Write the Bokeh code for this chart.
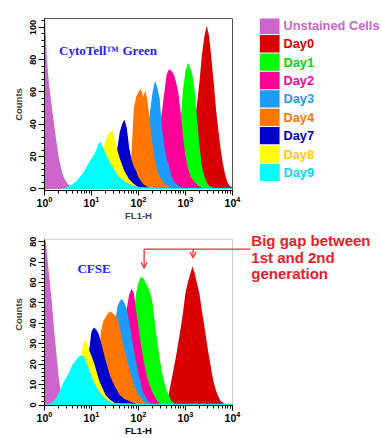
import numpy as np
from bokeh.plotting import figure
from bokeh.layouts import column, row
from bokeh.models import (Range1d, Label, Arrow, OpenHead, SingleIntervalTicker, BoxAnnotation,
                          LogAxis, FixedTicker)
from bokeh.embed import file_html
from bokeh.resources import INLINE
from bokeh.core.properties import value

# ---------------- data ----------------
series_names = ["Unstained Cells", "Day0", "Day1", "Day2", "Day3", "Day4", "Day7", "Day8", "Day9"]
fill_colors = ["#cc66cc", "#d80000", "#00ff00", "#ff0099", "#1e9bff", "#ff7700", "#0000cc", "#ffff00", "#00ffff"]
text_colors = ["#cc66cc", "#dd0000", "#00dd00", "#ff0099", "#1e9bff", "#ff7700", "#0000cc", "#ffcc00", "#00ddff"]

# Top panel: CytoTell Green  (log10 FL1-H positions, counts)
cyto_unst_log = [0.0, 0.03, 0.05, 0.1, 0.15, 0.2, 0.25, 0.3, 0.35, 0.4, 0.45, 0.5, 0.55, 0.6]
cyto_unst_cnt = [110, 95, 80, 64, 52, 41, 30, 20, 13, 8, 5, 3, 1.5, 0]
cyto_d0_log = [2.7, 2.8, 2.9, 3.0, 3.1, 3.15, 3.2, 3.25, 3.3, 3.35, 3.4, 3.45, 3.5, 3.55, 3.6, 3.65, 3.7, 3.75, 3.8, 3.85, 3.9, 3.95, 4.0]
cyto_d0_cnt = [0, 1, 3, 8, 20, 30, 42, 54, 67, 83, 94, 101, 95, 81, 66, 49, 36, 24, 15, 8, 3.5, 1.5, 1]
cyto_d1_log = [2.6, 2.7, 2.8, 2.85, 2.9, 2.95, 3.0, 3.05, 3.1, 3.15, 3.2, 3.25, 3.3, 3.35, 3.4, 3.45, 3.5, 3.6, 3.7]
cyto_d1_cnt = [1, 5, 18, 30, 45, 62, 73, 78, 75, 70, 60, 42, 26, 14, 8, 4, 2, 0.5, 0]
cyto_d2_log = [2.1, 2.2, 2.3, 2.4, 2.45, 2.5, 2.55, 2.6, 2.65, 2.7, 2.75, 2.8, 2.85, 2.9, 2.95, 3.0, 3.05, 3.1, 3.2, 3.3, 3.4]
cyto_d2_cnt = [1, 5, 14, 28, 38, 48, 60, 71, 74, 73, 71, 66, 59, 47, 32, 20, 13, 8, 4, 1.5, 0]
cyto_d3_log = [1.9, 2.0, 2.1, 2.15, 2.2, 2.25, 2.3, 2.35, 2.4, 2.45, 2.5, 2.55, 2.6, 2.65, 2.7, 2.75, 2.8, 2.9, 3.0]
cyto_d3_cnt = [2, 6, 16, 25, 37, 49, 60, 67, 63, 56, 38, 26, 19, 14, 8, 5, 3, 1, 0]
cyto_d4_log = [1.6, 1.7, 1.8, 1.85, 1.9, 1.95, 2.0, 2.05, 2.1, 2.15, 2.2, 2.25, 2.3, 2.35, 2.4, 2.5, 2.6, 2.7]
cyto_d4_cnt = [1, 4, 10, 22, 50, 57, 60, 62, 57, 61, 52, 40, 27, 17, 11, 5, 2, 0]
cyto_d7_log = [1.3, 1.4, 1.5, 1.55, 1.6, 1.65, 1.7, 1.75, 1.8, 1.85, 1.9, 1.95, 2.0, 2.1, 2.2, 2.3]
cyto_d7_cnt = [1, 5, 15, 25, 35, 40, 43, 38, 26, 18, 14, 11, 7, 3, 1, 0]
cyto_d8_log = [0.9, 1.0, 1.1, 1.2, 1.25, 1.3, 1.35, 1.4, 1.45, 1.5, 1.55, 1.6, 1.7, 1.8, 1.9, 2.0, 2.1]
cyto_d8_cnt = [1, 3, 8, 17, 24, 30, 34, 35, 36, 30, 24, 19, 11, 6, 3, 1, 0]
cyto_d9_log = [0.4, 0.5, 0.6, 0.7, 0.8, 0.9, 1.0, 1.05, 1.1, 1.15, 1.2, 1.25, 1.3, 1.4, 1.5, 1.6, 1.7, 1.8, 1.9, 2.0, 2.5, 3.0, 3.5, 4.0]
cyto_d9_cnt = [0, 1.5, 3, 5.5, 9, 14, 19, 21, 24, 28, 29, 25, 22, 16, 11, 7, 4.5, 3, 2, 1.2, 0.6, 0.5, 0.5, 0.5]

# Bottom panel: CFSE
cfse_unst_log = [0.0, 0.03, 0.05, 0.1, 0.15, 0.2, 0.25, 0.3, 0.35, 0.4, 0.45, 0.5]
cfse_unst_cnt = [82, 80, 75, 63, 52, 38, 26, 14, 6, 2, 0.5, 0]
cfse_d0_log = [2.5, 2.6, 2.65, 2.7, 2.75, 2.8, 2.85, 2.9, 2.95, 3.0, 3.05, 3.1, 3.15, 3.2, 3.25, 3.3, 3.35, 3.4, 3.45, 3.5, 3.55, 3.6, 3.65, 3.7, 3.75, 3.8, 3.9]
cfse_d0_cnt = [0, 1, 6, 12, 18, 24, 31, 38, 46, 55, 60, 64, 68, 64, 59, 54, 46, 39, 31, 24, 17, 11, 7, 4, 2, 1, 0]
cfse_d1_log = [1.6, 1.7, 1.8, 1.85, 1.9, 1.95, 2.0, 2.05, 2.1, 2.15, 2.2, 2.25, 2.3, 2.35, 2.4, 2.45, 2.5, 2.55, 2.6, 2.7, 2.8]
cfse_d1_cnt = [1, 5, 20, 32, 45, 55, 60, 63, 62, 60, 58, 55, 50, 40, 31, 23, 16, 11, 7, 2, 0]
cfse_d2_log = [1.4, 1.5, 1.6, 1.65, 1.7, 1.75, 1.8, 1.85, 1.9, 1.95, 2.0, 2.05, 2.1, 2.15, 2.2, 2.3, 2.4, 2.5]
cfse_d2_cnt = [1, 4, 14, 24, 36, 47, 54, 57, 55, 46, 38, 30, 23, 17, 12, 6, 2, 0]
cfse_d3_log = [1.2, 1.3, 1.35, 1.4, 1.45, 1.5, 1.55, 1.6, 1.65, 1.7, 1.75, 1.8, 1.85, 1.9, 1.95, 2.0, 2.1, 2.2, 2.3]
cfse_d3_cnt = [1, 4, 9, 16, 28, 40, 48, 51, 52, 50, 47, 41, 34, 27, 21, 15, 6, 2, 0]
cfse_d4_log = [0.9, 1.0, 1.1, 1.15, 1.2, 1.25, 1.3, 1.35, 1.4, 1.45, 1.5, 1.55, 1.6, 1.65, 1.7, 1.8, 1.9, 2.0, 2.1, 2.2]
cfse_d4_cnt = [1, 3, 10, 20, 36, 41, 43, 45, 46, 45, 44, 43, 38, 32, 27, 18, 10, 5, 2, 0]
cfse_d7_log = [0.7, 0.8, 0.85, 0.9, 0.95, 1.0, 1.05, 1.1, 1.15, 1.2, 1.3, 1.4, 1.5, 1.6, 1.7, 1.8, 1.9, 2.0]
cfse_d7_cnt = [1, 5, 10, 16, 27, 36, 38, 37, 35, 31, 22, 14, 9, 5, 3, 2, 1, 0]
cfse_d8_log = [0.5, 0.6, 0.65, 0.7, 0.75, 0.8, 0.85, 0.9, 0.95, 1.0, 1.05, 1.1, 1.15, 1.2, 1.3, 1.4, 1.5, 1.6]
cfse_d8_cnt = [1, 4, 8, 13, 20, 27, 32, 30, 27, 24, 21, 17, 13, 10, 5, 2.5, 1, 0]
cfse_d9_log = [0.0, 0.1, 0.2, 0.25, 0.3, 0.35, 0.4, 0.45, 0.5, 0.55, 0.6, 0.65, 0.7, 0.75, 0.8, 0.85, 0.9, 0.95, 1.0, 1.1, 1.2, 1.3, 1.4, 1.5, 2.0, 3.0, 4.0]
cfse_d9_cnt = [0, 0.5, 2, 3.5, 6, 8, 11, 13, 15, 17.5, 20, 21.5, 23, 24, 24.5, 23, 20.5, 17, 14, 9, 5.5, 3, 1.5, 1, 0.6, 0.6, 0.6]

annotation_lines = ["Big gap between", "1st and 2nd", "generation"]

cyto_series = [(cyto_unst_log, cyto_unst_cnt), (cyto_d0_log, cyto_d0_cnt), (cyto_d1_log, cyto_d1_cnt),
               (cyto_d2_log, cyto_d2_cnt), (cyto_d3_log, cyto_d3_cnt), (cyto_d4_log, cyto_d4_cnt),
               (cyto_d7_log, cyto_d7_cnt), (cyto_d8_log, cyto_d8_cnt), (cyto_d9_log, cyto_d9_cnt)]
cfse_series = [(cfse_unst_log, cfse_unst_cnt), (cfse_d0_log, cfse_d0_cnt), (cfse_d1_log, cfse_d1_cnt),
               (cfse_d2_log, cfse_d2_cnt), (cfse_d3_log, cfse_d3_cnt), (cfse_d4_log, cfse_d4_cnt),
               (cfse_d7_log, cfse_d7_cnt), (cfse_d8_log, cfse_d8_cnt), (cfse_d9_log, cfse_d9_cnt)]

FONT = "Liberation Sans"
RED = "#e8202a"
ARROW_RED = "#ee3333"
FRAME_GRAY = "#555555"


def style_axes(p, tick_step, x_label):
    p.yaxis.ticker = SingleIntervalTicker(interval=tick_step, num_minor_ticks=5)
    p.yaxis.major_label_orientation = "vertical"
    p.yaxis.major_label_text_font = FONT
    p.yaxis.major_label_text_font_style = "bold"
    p.yaxis.major_label_text_font_size = "9px"
    p.yaxis.major_label_standoff = 2
    p.yaxis.axis_label = "Counts"
    p.yaxis.axis_label_text_font = FONT
    p.yaxis.axis_label_text_font_style = "bold"
    p.yaxis.axis_label_text_font_size = "9.5px"
    p.yaxis.axis_label_standoff = 4
    p.yaxis.major_tick_out = 6
    p.yaxis.major_tick_in = 0
    p.yaxis.minor_tick_out = 3
    p.yaxis.minor_tick_in = 0

    p.xaxis.major_label_text_font = FONT
    p.xaxis.major_label_text_font_style = "bold"
    p.xaxis.major_label_text_font_size = "10.5px"
    p.xaxis.major_label_standoff = 0
    p.xaxis.major_tick_out = 5
    p.xaxis.major_tick_in = 0
    p.xaxis.minor_tick_out = 3
    p.xaxis.minor_tick_in = 0
    if x_label:
        p.xaxis.axis_label = "FL1-H"
        p.xaxis.axis_label_text_font = FONT
        p.xaxis.axis_label_text_font_style = "bold"
        p.xaxis.axis_label_text_font_size = "9.5px"
        p.xaxis.axis_label_standoff = 0
    for ax in (p.xaxis, p.yaxis):
        ax.axis_line_color = "black"
        ax.major_tick_line_color = "black"
        ax.minor_tick_line_color = "black"
        ax.major_label_text_color = "black"
    p.grid.visible = False
    p.background_fill_color = "white"
    p.border_fill_color = "white"


def draw_hist(p, series, y_cap):
    for (lg, cnt), col in zip(series, fill_colors):
        xs = 10 ** np.array(lg, dtype=float)
        ys = np.minimum(np.array(cnt, dtype=float), y_cap)
        p.varea(x=xs, y1=np.zeros(len(xs)), y2=ys, fill_color=col, fill_alpha=1.0)


TOP_H = 223
BOT_H = 438 - TOP_H
PX_PER_DECADE = 47.0

# ---------------- top panel ----------------
p1 = figure(width=242, height=TOP_H, x_axis_type="log",
            x_range=Range1d(1, 1e4), y_range=Range1d(-1, 105.5),
            toolbar_location=None, output_backend="svg",
            min_border_left=44, min_border_right=10, min_border_top=18, min_border_bottom=30)
p1.title.visible = False
draw_hist(p1, cyto_series, 200)
style_axes(p1, 20, True)
p1.outline_line_color = FRAME_GRAY
p1.outline_line_width = 1
p1.add_layout(Label(x=10 ** 0.31, y=85.8, text="CytoTell™ Green", text_align="left",
                    text_baseline="middle", text_font="Liberation Serif",
                    text_font_style="bold", text_font_size="13px", text_color="#1f1fff"))

# ---------------- legend (canvas-like coordinates, frame aligned with p1) ----------------
leg_w = 381 - 242
leg = figure(width=leg_w, height=TOP_H, x_range=Range1d(0, leg_w), y_range=Range1d(TOP_H - 30, 18),
             toolbar_location=None, output_backend="svg",
             x_axis_location=None, y_axis_location=None,
             min_border_left=0, min_border_right=0, min_border_top=18, min_border_bottom=30)
leg.title.visible = False
leg.grid.visible = False
leg.outline_line_color = None
row_y = [25 + 18.7 * i for i in range(len(series_names))]
leg.rect(x=27.2, y=row_y, width=19.7, height=17.6, fill_color=fill_colors, line_color=None)
leg.text(x=41.0, y=row_y, text=series_names, text_color=text_colors,
         text_font=value(FONT), text_font_style="bold", text_font_size="12.8px",
         text_baseline="middle", text_align="left")

# ---------------- bottom panel (frame extended right/up to hold the annotation) ----------------
y0, y1 = -0.2, 81.2           # histogram box range
box_top_px = 16               # box top below canvas top
frame_h = BOT_H - 30          # frame height in px (bottom border 30)
px_per_count = (frame_h - box_top_px) / (y1 - y0)
y_frame_top = y1 + box_top_px / px_per_count
x_frame_right = 10 ** ((381 - 44) / PX_PER_DECADE)

p2 = figure(width=381, height=BOT_H, x_axis_type="log",
            x_range=Range1d(1, x_frame_right), y_range=Range1d(y0, y_frame_top),
            toolbar_location=None, output_backend="svg",
            min_border_left=44, min_border_right=0, min_border_top=0, min_border_bottom=30)
p2.title.visible = False
draw_hist(p2, cfse_series, y1)
style_axes(p2, 10, False)
p2.xaxis.bounds = (1, 1e4)
p2.yaxis.bounds = (y0, y1)
# axis title of the bottom panel, centred under 10^2 like the top panel
label_axis = LogAxis(ticker=FixedTicker(ticks=[100], minor_ticks=[]),
                     major_label_overrides={100: "FL1-H"},
                     major_label_text_font=FONT, major_label_text_font_style="bold",
                     major_label_text_font_size="9.5px", major_label_text_color="black",
                     major_label_standoff=0, major_tick_out=0, major_tick_in=0,
                     minor_tick_out=0, minor_tick_in=0, axis_line_color=None,
                     major_tick_line_color=None, minor_tick_line_color=None)
p2.add_layout(label_axis, "below")
p2.outline_line_color = None
p2.add_layout(BoxAnnotation(left=1, right=1e4, bottom=y0, top=y1, fill_alpha=0,
                            line_color=FRAME_GRAY, line_width=1))
p2.add_layout(Label(x=10 ** 0.70, y=67.1, text="CFSE", text_align="left",
                    text_baseline="middle", text_font="Liberation Serif",
                    text_font_style="bold", text_font_size="13px", text_color="#1f1fff"))

arrow_y = 76.4
p2.add_layout(Arrow(end=None, x_start=10 ** 2.12, y_start=arrow_y, x_end=10 ** 4.38, y_end=arrow_y,
                    line_color=ARROW_RED, line_width=1.3))
p2.add_layout(Arrow(end=OpenHead(size=6, line_color=ARROW_RED, line_width=1.3),
                    x_start=10 ** 2.12, y_start=arrow_y, x_end=10 ** 2.12, y_end=67.0,
                    line_color=ARROW_RED, line_width=1.3))
p2.add_layout(Arrow(end=OpenHead(size=6, line_color=ARROW_RED, line_width=1.3),
                    x_start=10 ** 3.16, y_start=arrow_y, x_end=10 ** 3.16, y_end=72.0,
                    line_color=ARROW_RED, line_width=1.3))

for txt, yy in zip(annotation_lines, [80.7, 72.5, 64.3]):
    p2.add_layout(Label(x=10 ** 4.40, y=yy, text=txt, text_align="left", text_baseline="middle",
                        text_font=FONT, text_font_style="bold", text_font_size="15px",
                        text_color=RED))

layout = column(row(p1, leg), p2)
open("out.html", "w").write(file_html(layout, INLINE))
